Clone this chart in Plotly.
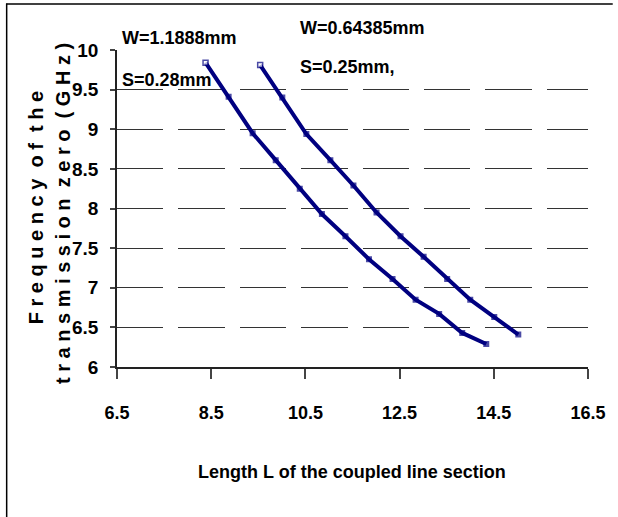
import plotly.graph_objects as go

# ---- data ----
len_w1 = [8.38, 8.87, 9.38, 9.87, 10.38, 10.85, 11.35, 11.85, 12.35, 12.84, 13.34, 13.83, 14.34]
freq_w1 = [9.84, 9.41, 8.95, 8.61, 8.25, 7.93, 7.65, 7.36, 7.11, 6.85, 6.67, 6.43, 6.29]
len_w2 = [9.54, 10.01, 10.52, 11.03, 11.52, 12.01, 12.52, 13.01, 13.51, 14.0, 14.51, 15.02]
freq_w2 = [9.81, 9.40, 8.94, 8.61, 8.29, 7.95, 7.65, 7.39, 7.11, 6.85, 6.63, 6.41]
x_ticks = [6.5, 8.5, 10.5, 12.5, 14.5, 16.5]
y_ticks = [6, 6.5, 7, 7.5, 8, 8.5, 9, 9.5, 10]
label_w1 = ["W=1.1888mm", "S=0.28mm"]
label_w2 = ["W=0.64385mm", "S=0.25mm,"]
x_title = "Length L of the coupled line section"
y_title_words_1 = ["Frequency", "of", "the"]
y_title_words_2 = ["transmission", "zero", "(GHz)"]

W, H = 618, 517
L, R, T, B = 117, 25, 49.5, 150.4
FONT = "Liberation Sans, Arial, sans-serif"
NAVY = "#000080"


def spaced(words):
    sep = "\u00a0"
    return (sep * 2).join(sep.join(w) for w in words)


def px(x):
    return (x - L) / (W - L - R)


def py(y):
    return 1 - (y - T) / (H - T - B)


fig = go.Figure()
for xs, ys in [(len_w1, freq_w1), (len_w2, freq_w2)]:
    fig.add_trace(go.Scatter(
        x=xs, y=ys, mode="lines+markers",
        line=dict(color=NAVY, width=4),
        marker=dict(symbol="square", size=[5] + [4.5] * (len(xs) - 1),
                    color=["white"] + [NAVY] * (len(xs) - 1),
                    line=dict(color=NAVY, width=1.5)),
        showlegend=False, cliponaxis=False,
    ))

fig.update_layout(
    width=W, height=H,
    margin=dict(l=L, r=R, t=T, b=B, pad=0),
    paper_bgcolor="white", plot_bgcolor="white",
    font=dict(family=FONT, color="black"),
    showlegend=False,
)
fig.update_xaxes(
    range=[6.5, 16.5], tickvals=x_ticks, ticktext=[str(v) for v in x_ticks],
    showgrid=False, zeroline=False,
    showline=True, linecolor="#222", linewidth=1.5,
    ticks="outside", ticklen=10, tickwidth=1.5, tickcolor="#444",
    tickfont=dict(family=FONT, size=18, color="black", weight="bold"),
    ticklabelstandoff=19,
)
fig.update_yaxes(
    range=[6, 10], tickvals=y_ticks, ticktext=[f"{v:g}" for v in y_ticks],
    showgrid=True, gridcolor="#333", gridwidth=1, griddash="46.4px,15px",
    zeroline=False,
    showline=True, linecolor="#222", linewidth=1.5,
    ticks="outside", ticklen=5, tickwidth=1.5, tickcolor="#444",
    tickfont=dict(family=FONT, size=19, color="black", weight="bold"),
    ticklabelstandoff=8,
)

anns = []
anns.append(dict(x=px(354), y=py(472), xref="paper", yref="paper", text=x_title,
                 showarrow=False, xanchor="center", yanchor="middle",
                 font=dict(family=FONT, size=18, color="black", weight="bold")))
anns.append(dict(x=px(36), y=py(207), xref="paper", yref="paper", text=spaced(y_title_words_1),
                 textangle=-90, showarrow=False, xanchor="center", yanchor="middle",
                 font=dict(family=FONT, size=20, color="black", weight="bold")))
anns.append(dict(x=px(63), y=py(213), xref="paper", yref="paper", text=spaced(y_title_words_2),
                 textangle=-90, showarrow=False, xanchor="center", yanchor="middle",
                 font=dict(family=FONT, size=20, color="black", weight="bold")))
for txt, (xx, yy) in zip(label_w1 + label_w2, [(120, 37), (120, 80), (300, 27), (300, 67)]):
    anns.append(dict(x=px(xx), y=py(yy), xref="paper", yref="paper", text=txt,
                     showarrow=False, xanchor="left", yanchor="middle",
                     font=dict(family=FONT, size=18, color="black", weight="bold")))
fig.update_layout(annotations=anns)

# outer frame (top and left edges)
fig.add_shape(type="line", xref="paper", yref="paper",
              x0=px(5), x1=px(618), y0=py(3.5), y1=py(3.5),
              line=dict(color="black", width=1.5))
fig.add_shape(type="line", xref="paper", yref="paper",
              x0=px(5.5), x1=px(5.5), y0=py(3), y1=py(517),
              line=dict(color="black", width=1.5))

fig.write_html("out.html")
